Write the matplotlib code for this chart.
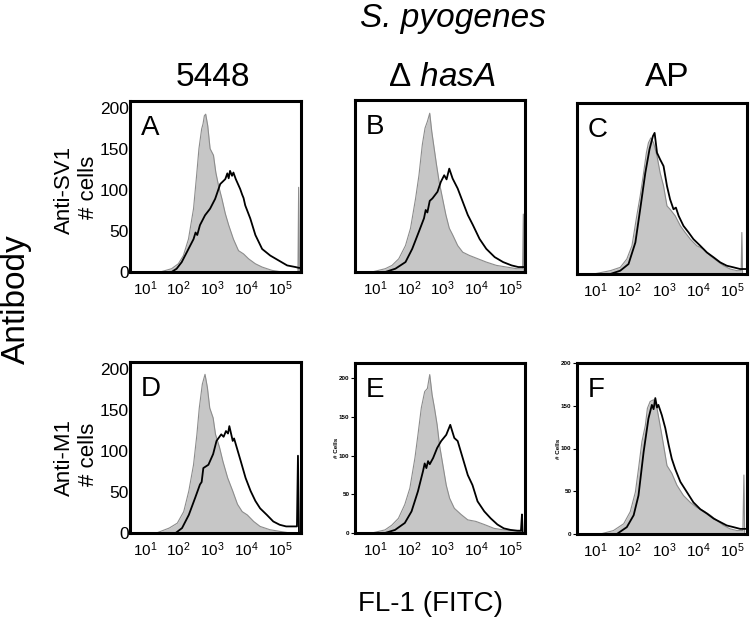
import numpy as np
import matplotlib
matplotlib.use('Agg')
import matplotlib.pyplot as plt

plt.rcParams['font.family'] = ['Liberation Sans', 'DejaVu Sans']
plt.rcParams['mathtext.fontset'] = 'custom'
plt.rcParams['mathtext.rm'] = 'Liberation Sans'
plt.rcParams['mathtext.it'] = 'Liberation Sans:italic'

# FL-1 channel in decades (log10) and cell counts
# grey = isotype control, black = antibody stained
a_iso_dec = [1.45, 1.79, 1.99, 2.14, 2.29, 2.44, 2.53, 2.60, 2.68, 2.72, 2.76, 2.80, 2.86, 2.93, 3.03, 3.10, 3.18,
             3.28, 3.38, 3.48, 3.62, 3.77, 3.92, 4.07, 4.27, 4.47, 4.76, 5.06, 5.50, 5.53, 5.55, 5.57]
a_iso_cnt = [0, 4, 10, 20, 40, 77, 117, 150, 174, 180, 190, 192, 178, 150, 142, 121, 105,
             89, 71, 57, 40, 26, 22, 16, 10, 6, 2, 0, 0, 0, 103, 0]
a_ab_dec = [1.79, 1.94, 2.09, 2.24, 2.44, 2.50, 2.55, 2.63, 2.78, 2.93, 3.08, 3.23, 3.38, 3.44, 3.48, 3.52,
            3.58, 3.62, 3.69, 3.82, 3.88, 3.92, 3.97, 4.12, 4.27, 4.47, 4.71, 4.96, 5.21, 5.46, 5.56]
a_ab_cnt = [0, 4, 12, 24, 40, 48, 45, 57, 69, 77, 89, 107, 113, 120, 114, 123, 117, 121, 113, 101, 94, 90,
            81, 65, 45, 28, 20, 14, 8, 6, 5]

b_iso_dec = [0.9, 1.3, 1.5, 1.7, 1.9, 2.05, 2.2, 2.3, 2.4, 2.48, 2.55, 2.62, 2.68, 2.75, 2.82, 2.9, 3.0, 3.1,
             3.2, 3.3, 3.45, 3.6, 3.8, 4.05, 4.3, 4.6, 4.9, 5.2, 5.35, 5.38, 5.40, 5.42]
b_iso_cnt = [0, 4, 8, 16, 32, 53, 89, 117, 154, 174, 182, 192, 170, 150, 130, 109, 89, 69,
             53, 45, 32, 24, 20, 16, 12, 8, 6, 4, 4, 4, 70, 0]
b_ab_dec = [1.3, 1.6, 1.9, 2.1, 2.3, 2.45, 2.5, 2.55, 2.62, 2.7, 2.85, 2.95, 3.05, 3.12, 3.2, 3.3, 3.45,
            3.6, 3.75, 3.9, 4.1, 4.3, 4.55, 4.8, 5.05, 5.25, 5.38]
b_ab_cnt = [0, 4, 12, 28, 49, 65, 75, 72, 86, 89, 97, 109, 117, 112, 125, 113, 101, 85, 69, 57, 40, 28,
            18, 12, 8, 6, 6]

c_iso_dec = [0.95, 1.44, 1.73, 1.92, 2.07, 2.21, 2.31, 2.41, 2.49, 2.55, 2.62, 2.7, 2.8, 2.89, 2.99, 3.09,
             3.18, 3.33, 3.48, 3.62, 3.77, 3.96, 4.16, 4.35, 4.54, 4.74, 4.93, 5.13, 5.25, 5.27, 5.29]
c_iso_cnt = [0, 4, 8, 18, 34, 70, 94, 122, 146, 158, 164, 158, 142, 122, 106, 82, 78, 70, 58, 50, 42, 34,
             30, 22, 16, 10, 6, 4, 4, 50, 0]
c_ab_dec = [1.44, 1.73, 1.97, 2.17, 2.31, 2.46, 2.58, 2.68, 2.73, 2.8, 2.89, 2.99, 3.09, 3.18, 3.28, 3.35,
            3.43, 3.57, 3.72, 3.86, 4.06, 4.25, 4.45, 4.64, 4.83, 5.03, 5.22, 5.3]
c_ab_cnt = [0, 4, 12, 38, 78, 122, 150, 166, 170, 146, 138, 130, 106, 90, 78, 80, 70, 58, 50, 42, 34, 26,
            20, 14, 10, 8, 6, 6]

d_iso_dec = [1.34, 1.72, 1.96, 2.15, 2.3, 2.44, 2.54, 2.61, 2.7, 2.78, 2.85, 2.92, 3.02, 3.09, 3.21, 3.31,
             3.45, 3.6, 3.74, 3.88, 4.03, 4.22, 4.41, 4.7, 4.99, 5.3]
d_iso_cnt = [0, 6, 12, 26, 51, 83, 120, 152, 181, 193, 177, 152, 140, 120, 104, 87, 67, 51, 35, 26, 22,
             14, 8, 4, 2, 0]
d_ab_dec = [1.91, 2.1, 2.3, 2.49, 2.63, 2.68, 2.73, 2.88, 3.02, 3.12, 3.26, 3.33, 3.4, 3.46, 3.5, 3.6, 3.64,
            3.69, 3.84, 3.98, 4.13, 4.27, 4.41, 4.61, 4.8, 4.99, 5.18, 5.38, 5.5, 5.53, 5.56]
d_ab_cnt = [0, 6, 22, 43, 59, 62, 79, 83, 96, 112, 120, 117, 124, 121, 130, 112, 115, 108, 87, 67, 51, 39,
            30, 22, 14, 10, 8, 8, 8, 94, 0]

e_iso_dec = [0.9, 1.29, 1.49, 1.69, 1.88, 2.03, 2.18, 2.27, 2.37, 2.47, 2.55, 2.62, 2.69, 2.76, 2.84, 2.91,
             3.01, 3.11, 3.21, 3.35, 3.55, 3.75, 3.99, 4.24, 4.53, 4.82, 5.12, 5.3]
e_iso_cnt = [0, 4, 10, 19, 37, 58, 97, 127, 162, 183, 187, 205, 179, 162, 140, 114, 88, 62, 45, 32, 24,
             17, 15, 11, 6, 4, 3, 2]
e_ab_dec = [1.29, 1.59, 1.88, 2.08, 2.27, 2.42, 2.47, 2.52, 2.57, 2.62, 2.72, 2.84, 2.96, 3.11, 3.23, 3.35,
            3.45, 3.6, 3.75, 3.89, 4.04, 4.24, 4.43, 4.63, 4.82, 5.02, 5.22, 5.33, 5.36, 5.38]
e_ab_cnt = [0, 4, 13, 28, 54, 80, 90, 84, 93, 89, 97, 110, 119, 127, 140, 123, 119, 97, 75, 62, 41, 28,
            19, 11, 6, 4, 3, 3, 24, 0]

f_iso_dec = [1.15, 1.53, 1.83, 2.02, 2.17, 2.26, 2.36, 2.46, 2.52, 2.6, 2.7, 2.8, 2.89, 2.99, 3.09, 3.23,
             3.38, 3.57, 3.77, 3.96, 4.16, 4.35, 4.54, 4.74, 4.93, 5.13, 5.3, 5.33, 5.35]
f_iso_cnt = [0, 4, 12, 26, 49, 76, 108, 127, 147, 155, 157, 147, 127, 104, 80, 71, 57, 45, 37, 31, 27, 22,
             16, 10, 6, 4, 4, 69, 0]
f_ab_dec = [1.63, 1.92, 2.12, 2.26, 2.41, 2.55, 2.65, 2.7, 2.75, 2.8, 2.84, 2.94, 3.04, 3.14, 3.23, 3.33,
            3.48, 3.67, 3.86, 4.06, 4.25, 4.45, 4.64, 4.83, 5.03, 5.22, 5.3]
f_ab_cnt = [0, 8, 22, 45, 96, 135, 151, 146, 159, 148, 151, 139, 124, 104, 88, 76, 61, 49, 37, 29, 24, 18,
            14, 10, 8, 6, 6]

panel_letters = ['A', 'B', 'C', 'D', 'E', 'F']
strains = ['5448', r'$\Delta$ $\mathit{hasA}$', 'AP']
antibodies = ['Anti-SV1', 'Anti-M1']
xtick_dec = [1, 2, 3, 4, 5]
ytick_vals = [0, 50, 100, 150, 200]

W, H = 753, 624
fig = plt.figure(figsize=(W / 100, H / 100), dpi=100)

# panel boxes in pixels: left, top, right, bottom
boxes = [(130, 101, 301, 272), (355, 100, 525, 272), (577, 103, 747, 274),
         (130, 362, 301, 533), (355, 363, 525, 533), (577, 363, 747, 534)]
xlims = [(0.56, 5.62), (0.40, 5.45), (0.47, 5.42), (0.56, 5.62), (0.40, 5.45), (0.47, 5.42)]
ylims = [208, 208, 206, 208, 220, 200]

curves = [(a_iso_dec, a_iso_cnt, a_ab_dec, a_ab_cnt), (b_iso_dec, b_iso_cnt, b_ab_dec, b_ab_cnt),
          (c_iso_dec, c_iso_cnt, c_ab_dec, c_ab_cnt), (d_iso_dec, d_iso_cnt, d_ab_dec, d_ab_cnt),
          (e_iso_dec, e_iso_cnt, e_ab_dec, e_ab_cnt), (f_iso_dec, f_iso_cnt, f_ab_dec, f_ab_cnt)]

for i, (l, t, r, b) in enumerate(boxes):
    ax = fig.add_axes([l / W, 1 - b / H, (r - l) / W, (b - t) / H])
    iso_d, iso_c, ab_d, ab_c = curves[i]
    lo, hi = xlims[i]
    iso_x = 10 ** np.array([lo] + iso_d + [hi])
    iso_y = np.array([0] + iso_c + [0])
    ab_x = 10 ** np.array([lo] + ab_d + [hi])
    ab_y = np.array([0] + ab_c + [ab_c[-1]])
    ax.fill_between(iso_x, iso_y, 0, color='#c6c6c6', lw=0)
    ax.plot(iso_x, iso_y, color='#8c8c8c', lw=0.8)
    ax.plot(ab_x, ab_y, color='black', lw=1.3)
    ax.set_xscale('log')
    ax.set_xlim(10 ** lo, 10 ** hi)
    ax.set_ylim(0, ylims[i])
    ax.minorticks_off()
    ax.set_xticks([10 ** d for d in xtick_dec])
    ax.set_xticklabels([f'$10^{{{d}}}$' for d in xtick_dec], fontsize=11)
    ax.tick_params(axis='x', length=0, pad=5)
    for s in ax.spines.values():
        s.set_linewidth(2.2)
    ax.text(0.065, 0.80, panel_letters[i], transform=ax.transAxes, fontsize=20, va='baseline')
    if i in (0, 3):
        ax.set_yticks(ytick_vals)
        ax.set_yticklabels([str(v) for v in ytick_vals], fontsize=12.5)
        ax.tick_params(axis='y', length=0, pad=1)
    elif i in (4, 5):
        ax.set_yticks(ytick_vals)
        ax.set_yticklabels([str(v) for v in ytick_vals], fontsize=4.5, fontweight='bold')
        ax.tick_params(axis='y', length=3, width=0.8, pad=1)
        ax.set_ylabel('# Cells', fontsize=4.5, fontweight='bold', labelpad=0)
    else:
        ax.set_yticks([])

fig.text(453 / W, 1 - 27 / H, 'S. pyogenes', fontsize=24, style='italic', ha='center', va='baseline')
for x, s in zip([213, 442, 667], strains):
    fig.text(x / W, 1 - 86 / H, s, fontsize=24, ha='center', va='baseline')

fig.text(16 / W, 1 - 299 / H, 'Antibody', fontsize=24, rotation=90, ha='center', va='center')
for y, s in zip([190, 457], antibodies):
    fig.text(64 / W, 1 - y / H, s, fontsize=16, rotation=90, ha='center', va='center')
    fig.text(88 / W, 1 - (y - 3) / H, '# cells', fontsize=16, rotation=90, ha='center', va='center')

fig.text(430 / W, 1 - 604 / H, 'FL-1 (FITC)', fontsize=20, ha='center', va='center')

fig.savefig('out.png', dpi=100)
